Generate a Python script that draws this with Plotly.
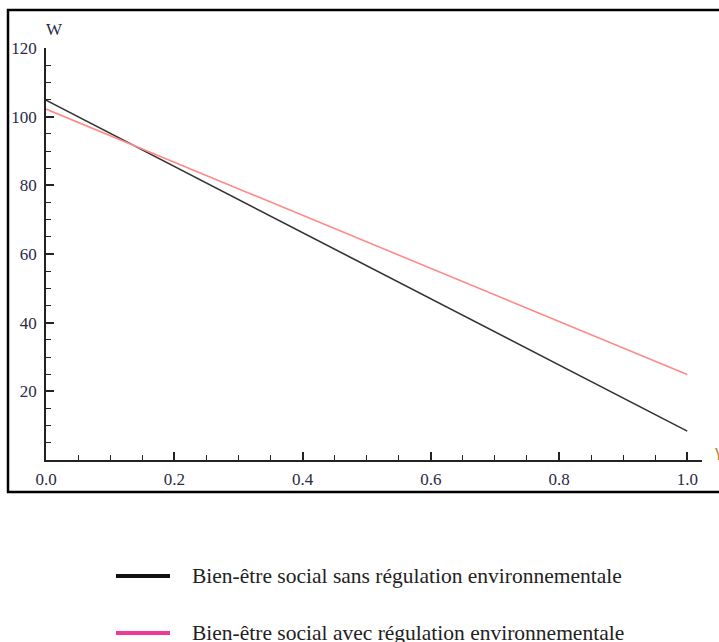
import plotly.graph_objects as go

# Data
x_values = [0.0, 1.0]
w_sans = [104.8, 8.4]      # Bien-être social sans régulation environnementale
w_avec = [102.2, 24.9]     # Bien-être social avec régulation environnementale
series_names = [
    "Bien-être social sans régulation environnementale",
    "Bien-être social avec régulation environnementale",
]
x_tickvals = [0.0, 0.2, 0.4, 0.6, 0.8, 1.0]
x_ticktext = ["0.0", "0.2", "0.4", "0.6", "0.8", "1.0"]
y_tickvals = [20, 40, 60, 80, 100, 120]
y_ticktext = ["20", "40", "60", "80", "100", "120"]

plot_colors = ["#333333", "#ff8a8a"]
legend_colors = ["#111111", "#ee3a96"]

W, H = 719, 642
ml, mr, mt, mb = 46, 17, 48, 182
pw, ph = W - ml - mr, H - mt - mb

def px(x):
    return (x - ml) / pw

def py(y):
    return (H - mb - y) / ph

fig = go.Figure()
for yv, name, col in zip([w_sans, w_avec], series_names, plot_colors):
    fig.add_trace(go.Scatter(x=x_values, y=yv, mode="lines", name=name,
                             line=dict(color=col, width=1.6), showlegend=False))

tick_font = dict(family="Liberation Serif", size=17, color="#2a2a48")

fig.update_layout(
    width=W, height=H,
    margin=dict(l=ml, r=mr, t=mt, b=mb),
    paper_bgcolor="white", plot_bgcolor="white",
    xaxis=dict(range=[0, 1.023], showgrid=False, zeroline=False,
               showline=True, linecolor="#222", linewidth=1.6,
               ticks="inside", ticklen=8, tickwidth=1.5, tickcolor="#222",
               tickvals=x_tickvals, ticktext=x_ticktext, tickfont=tick_font,
               ticklabelstandoff=3,
               minor=dict(ticks="inside", ticklen=5, tickwidth=1.3,
                          tickcolor="#222", dtick=0.05, showgrid=False)),
    yaxis=dict(range=[0, 120], showgrid=False, zeroline=False,
               showline=True, linecolor="#222", linewidth=1.6,
               ticks="inside", ticklen=8, tickwidth=1.5, tickcolor="#222",
               tickvals=y_tickvals, ticktext=y_ticktext, tickfont=tick_font,
               ticklabelstandoff=4,
               minor=dict(ticks="inside", ticklen=5, tickwidth=1.3,
                          tickcolor="#222", dtick=5, showgrid=False)),
    showlegend=False,
)

shapes = []
# outer border box
shapes.append(dict(type="rect", xref="paper", yref="paper",
                   x0=px(8), x1=px(740), y0=py(492), y1=py(10),
                   line=dict(color="black", width=2.5), fillcolor="rgba(0,0,0,0)"))
annotations = []
annotations.append(dict(text="W", xref="paper", yref="paper", x=px(44), y=py(18),
                        showarrow=False, font=dict(family="Liberation Serif", size=17, color="#2a2a48")))
annotations.append(dict(text="γ", xref="paper", yref="paper", x=px(712), y=py(462),
                        xanchor="left", showarrow=False,
                        font=dict(family="Liberation Serif", size=17, color="#c08030")))

legend_y = [576, 633]
for name, col, ly in zip(series_names, legend_colors, legend_y):
    shapes.append(dict(type="line", xref="paper", yref="paper",
                       x0=px(116), x1=px(170), y0=py(ly), y1=py(ly),
                       line=dict(color=col, width=4)))
    annotations.append(dict(text=name, xref="paper", yref="paper",
                            x=px(190), y=py(ly), xanchor="left", yanchor="middle",
                            showarrow=False,
                            font=dict(family="Liberation Serif", size=21.5, color="#222")))

fig.update_layout(shapes=shapes, annotations=annotations)
fig.write_html(
    "out.html",
    config={"displayModeBar": False},
    post_script="document.body.style.margin='0';document.body.style.overflow='hidden';",
)
